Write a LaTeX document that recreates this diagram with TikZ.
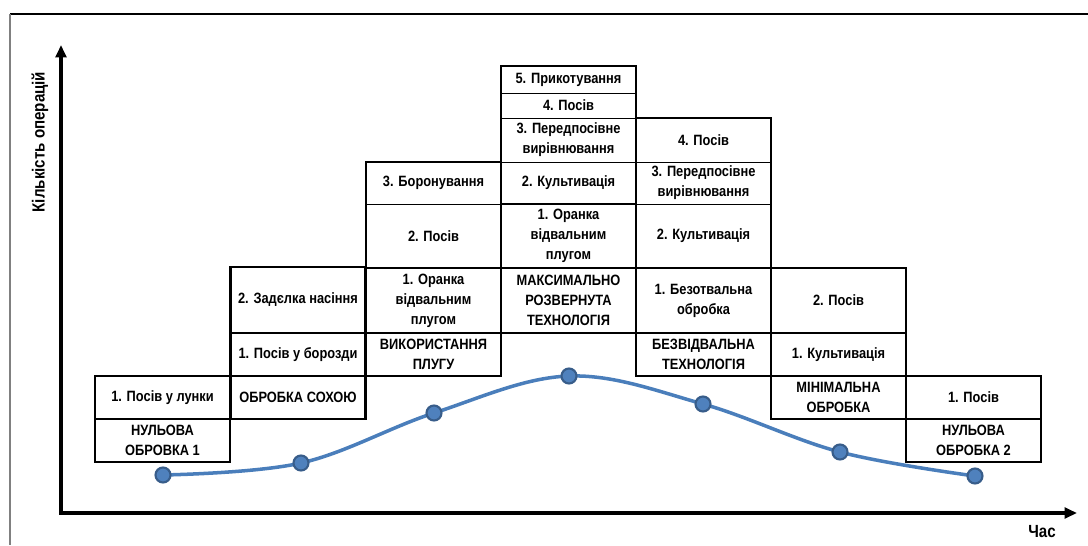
\documentclass[tikz,border=0pt]{standalone}
\usepackage{fontspec}
\setmainfont{Liberation Sans}[FakeStretch=0.86]
\usepackage{tikz}
\usetikzlibrary{arrows.meta,positioning}
\definecolor{curveblue}{RGB}{74,126,187}
\definecolor{markfill}{RGB}{79,129,189}
\definecolor{markline}{RGB}{56,93,138}

\begin{document}
\begin{tikzpicture}[x=0.02cm,y=-0.02cm,node distance=0pt,
    cell/.style={draw,line width=0.6pt,outer sep=0pt,inner sep=1pt,minimum width=2.7cm,
      align=center,font=\fontsize{8.5}{11.3}\selectfont\bfseries},
    lowrow/.style={minimum height=0.86cm},
    midrow/.style={minimum height=1.3cm},
    colframe/.style={line width=1.5pt},
    axis/.style={line width=2pt,{Triangle[length=7pt,width=6pt]}-{Triangle[length=7pt,width=6pt]}},
    dot/.style={circle,fill=markfill,draw=markline,line width=1.2pt,minimum size=0.3cm,inner sep=0pt},
    axlabel/.style={font=\fontsize{10}{12}\selectfont\bfseries}]
  \useasboundingbox (0,0) rectangle (1088,545);
  % frame
  \coordinate (ftl) at (10,14);
  \coordinate (ftr) at (1088,14);
  \coordinate (fbl) at (10,545);
  \draw[line width=0.7pt] (ftl) -- (ftr);
  \draw[gray,line width=0.7pt] (ftl) -- (fbl);
  % axes
  \coordinate (origin) at (61,513);
  \coordinate (ytop) at (61,45);
  \coordinate (xend) at (1077,513);
  \draw[axis] (ytop) -- (origin) -- (xend);
  \node[axlabel,rotate=90] (ylab) at (40,142) {Кількість операцій};
  \node[axlabel] (xlab) at (1042,532) {Час};

  % column 1
  \node[cell,lowrow] (nul1) at (162.5,440.5) {НУЛЬОВА\\ОБРОВКА 1};
  \node[cell,lowrow,above=of nul1] (nul1a) {1. Посів у лунки};
  % column 2
  \node[cell,lowrow] (soha) at (298,397.5) {ОБРОБКА СОХОЮ};
  \node[cell,lowrow,above=of soha] (soha1) {1. Посів у борозди};
  \node[cell,midrow,minimum height=1.32cm,above=of soha1] (soha2) {2. Задєлка насіння};
  % column 3
  \node[cell,lowrow] (plug) at (433.5,354.5) {ВИКОРИСТАННЯ\\ПЛУГУ};
  \node[cell,midrow,above=of plug] (plug1) {1. Оранка\\відвальним\\плугом};
  \node[cell,minimum height=1.28cm,above=of plug1] (plug2) {2. Посів};
  \node[cell,minimum height=0.84cm,above=of plug2] (plug3) {3. Боронування};
  % column 4
  \node[cell,midrow] (max) at (568.5,300.5) {МАКСИМАЛЬНО\\РОЗВЕРНУТА\\ТЕХНОЛОГІЯ};
  \node[cell,minimum height=1.28cm,above=of max] (max1) {1. Оранка\\відвальним\\плугом};
  \node[cell,minimum height=0.84cm,above=of max1] (max2) {2. Культивація};
  \node[cell,minimum height=0.88cm,above=of max2] (max3) {3. Передпосівне\\вирівнювання};
  \node[cell,minimum height=0.5cm,above=of max3] (max4) {4. Посів};
  \node[cell,minimum height=0.54cm,above=of max4] (max5) {5. Прикотування};
  % column 5
  \node[cell,lowrow] (bezv) at (703.5,354.5) {БЕЗВІДВАЛЬНА\\ТЕХНОЛОГІЯ};
  \node[cell,midrow,above=of bezv] (bezv1) {1. Безотвальна\\обробка};
  \node[cell,minimum height=1.28cm,above=of bezv1] (bezv2) {2. Культивація};
  \node[cell,minimum height=0.84cm,above=of bezv2] (bezv3) {3. Передпосівне\\вирівнювання};
  \node[cell,minimum height=0.88cm,above=of bezv3] (bezv4) {4. Посів};
  % column 6
  \node[cell,lowrow] (min) at (838.5,397.5) {МІНІМАЛЬНА\\ОБРОБКА};
  \node[cell,lowrow,above=of min] (min1) {1. Культивація};
  \node[cell,midrow,above=of min1] (min2) {2. Посів};
  % column 7
  \node[cell,lowrow] (nul2) at (973.5,440.5) {НУЛЬОВА\\ОБРОБКА 2};
  \node[cell,lowrow,above=of nul2] (nul2a) {1. Посів};

  % outer lines of the columns
  \draw[colframe] (nul1a.north west) rectangle (nul1.south east);
  \draw[colframe] (soha2.north west) rectangle (soha.south east);
  \draw[colframe] (plug3.north west) rectangle (plug.south east);
  \draw[colframe] (max5.north west) rectangle (max.south east);
  \draw[colframe] (bezv4.north west) rectangle (bezv.south east);
  \draw[colframe] (min2.north west) rectangle (min.south east);
  \draw[colframe] (nul2a.north west) rectangle (nul2.south east);

  % curve
  \coordinate (p1) at (163,475);
  \coordinate (p2) at (301,463);
  \coordinate (p3) at (434,413);
  \coordinate (p4) at (569,376);
  \coordinate (p5) at (703,404);
  \coordinate (p6) at (840,452);
  \coordinate (p7) at (975,476);
  \draw[curveblue,line width=2pt] plot[smooth,tension=0.6] coordinates {(p1) (p2) (p3) (p4) (p5) (p6) (p7)};
  \foreach \i in {1,...,7}
    \node[dot] (d\i) at (p\i) {};
\end{tikzpicture}
\end{document}
